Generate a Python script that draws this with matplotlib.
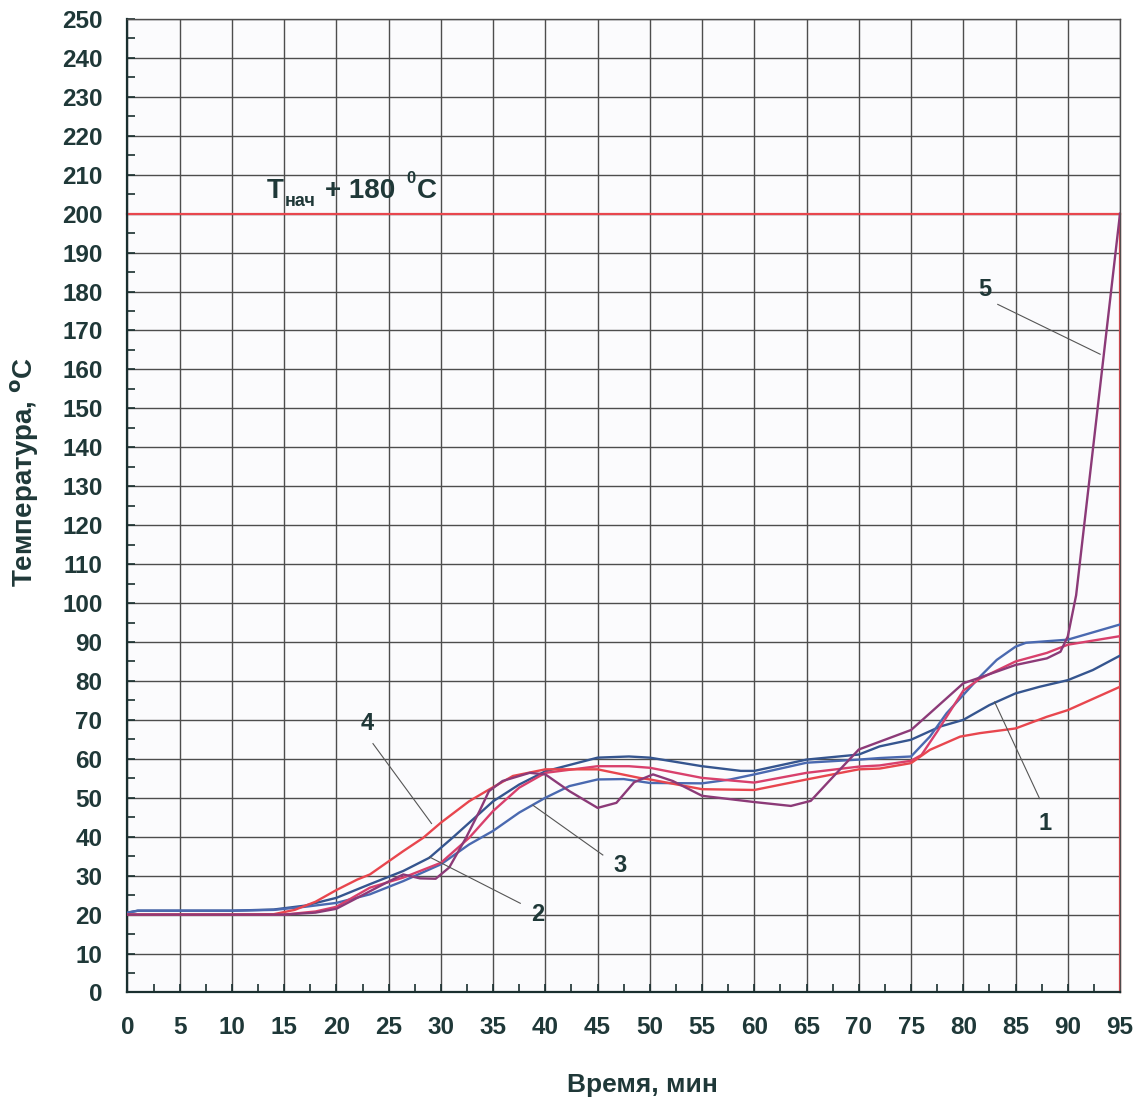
import matplotlib
matplotlib.use("Agg")
import matplotlib.pyplot as plt
from matplotlib.ticker import MultipleLocator

plt.rcParams['font.family'] = ['Liberation Sans', 'DejaVu Sans']
plt.rcParams['font.weight'] = 'bold'

# curve data (time in min, temperature in deg C)
time_1 = [0, 1, 10, 14, 17, 20, 23.2, 26.4, 28.9, 31.1, 35, 37.5, 40, 45, 48, 50, 55, 58.7, 60,
          65, 70, 72, 75, 77.8, 80, 82.5, 85, 87.3, 90, 92.4, 95]
temp_1 = [20.5, 21, 21, 21.3, 22.3, 24.3, 27.8, 31.2, 34.6, 39.7, 49.1, 53.4, 56.8, 60.3, 60.6, 60.3,
          58.1, 56.9, 56.9, 59.8, 61.1, 63.2, 64.9, 68.3, 70, 73.8, 76.8, 78.5, 80.2, 82.8, 86.5]

time_2 = [0, 1, 10, 14, 17, 20, 23.2, 26.4, 30, 32.7, 35, 37.5, 40, 42.3, 45, 47.5, 50, 55, 57.7,
          60, 65, 70, 72, 75, 76.8, 78.4, 80, 81.6, 83.2, 85, 86, 90, 95]
temp_2 = [20.5, 21, 21, 21.2, 22, 23, 25.2, 28.6, 32.9, 38, 41.5, 46.2, 50, 53, 54.7, 54.8, 53.8,
          53.7, 54.7, 56, 59, 59.8, 60.2, 60.6, 65.7, 71.7, 76.4, 81.1, 85.4, 88.8, 89.8, 90.6, 94.5]

time_3 = [0, 10, 15, 18, 20, 23.2, 26.4, 30, 32.7, 35, 37.5, 40, 45, 48, 50, 55, 60, 65, 70, 72,
          75, 76, 77.5, 80, 81.6, 85, 88, 90, 95]
temp_3 = [20, 20, 20, 20.8, 22, 26.9, 29.5, 33.3, 39.7, 46.6, 52.6, 56.4, 58.1, 58.1, 57.7, 55.1,
          53.9, 56.4, 58, 58.3, 59.5, 61, 67, 77.5, 80.6, 85, 87.2, 89.3, 91.5]

time_4 = [0, 5, 10, 14, 16, 18, 20, 22, 23.2, 26.4, 28.3, 30, 32.7, 34.6, 36.9, 40, 45, 49, 50,
          55, 60, 65, 70, 72, 75, 76.8, 79.7, 81.6, 85, 88, 90, 95]
temp_4 = [20, 20, 20, 20.1, 21.2, 23.3, 26.3, 29, 30.3, 36.3, 39.7, 43.6, 49.1, 52.1, 55.6, 57.3,
          57.3, 55.1, 54.7, 52.2, 52, 54.7, 57.3, 57.5, 58.9, 62.3, 65.7, 66.6, 67.8, 70.8, 72.5, 78.5]

time_5 = [0, 10, 15, 18, 20, 22.5, 25, 26.4, 28, 29.5, 30.8, 32.4, 33.7, 34.6, 35.9, 38.5, 40,
          42.3, 45, 46.8, 48.5, 50.3, 52.2, 55, 60, 63.5, 65.4, 67.3, 70, 72, 75, 76.8, 80, 81.3,
          85, 88, 89.3, 90, 90.8, 95]
temp_5 = [20, 20, 20, 20.5, 21.5, 25, 28.5, 30.3, 29.3, 29.2, 32.1, 39.7, 46.6, 51.7, 54.3, 56.4,
          56, 51.7, 47.4, 48.7, 54, 56, 54.3, 50.5, 48.9, 47.9, 49.2, 54.7, 62.4, 64.4, 67.4, 71.7,
          79.4, 80.6, 84.1, 85.8, 87.5, 91.4, 102, 200]

limit_temp = 200
x_ticks = list(range(0, 96, 5))
y_ticks = list(range(0, 251, 10))

# curve labels: text position and leader line (start, end)
labels = {
    '1': ((87.8, 43.4), (87.3, 49.8), (83.0, 74.6)),
    '2': ((39.3, 19.9), (37.6, 22.9), (28.9, 34.8)),
    '3': ((47.1, 32.7), (45.5, 35.3), (38.8, 48.1)),
    '4': ((22.9, 69.0), (23.5, 63.9), (29.1, 43.4)),
    '5': ((82.1, 180.6), (83.3, 176.7), (93.1, 163.9)),
}

text_col = '#1f3838'
grid_col = '#4d4d4d'
red = '#e8464e'

fig = plt.figure(figsize=(11.41, 11.15), dpi=100)
ax = fig.add_axes([0.1117, 0.1099, 0.8699, 0.8731])
ax.set_facecolor('#fbfbfd')

ax.plot(time_1, temp_1, color='#35558f', lw=1.7, zorder=3)
ax.plot(time_2, temp_2, color='#4a69b0', lw=1.7, zorder=3)
ax.plot(time_3, temp_3, color='#d8406c', lw=1.7, zorder=3)
ax.plot(time_4, temp_4, color=red, lw=1.7, zorder=3)
ax.plot(time_5, temp_5, color='#8c3a78', lw=1.7, zorder=4)

# limit lines
ax.plot([0, 95], [limit_temp, limit_temp], color=red, lw=1.6, zorder=2, clip_on=False)
ax.plot([95, 95], [0, limit_temp], color=red, lw=1.6, zorder=2, clip_on=False)

for name, (pos, p0, p1) in labels.items():
    ax.plot([p0[0], p1[0]], [p0[1], p1[1]], color='#555555', lw=0.8, zorder=5)
    ax.text(pos[0], pos[1], name, ha='center', va='center', fontsize=17,
            fontweight='bold', color=text_col, zorder=6)

# Tнач + 180 °C
ax.text(13.3, 204, 'T', fontsize=20, fontweight='bold', color=text_col, ha='left', va='baseline')
ax.text(15.1, 201.9, 'нач', fontsize=13, fontweight='bold', color=text_col, ha='left', va='baseline')
ax.text(18.9, 204, '+ 180', fontsize=20, fontweight='bold', color=text_col, ha='left', va='baseline')
ax.text(26.7, 207.8, '0', fontsize=12, fontweight='bold', color=text_col, ha='left', va='baseline')
ax.text(27.7, 204, 'C', fontsize=20, fontweight='bold', color=text_col, ha='left', va='baseline')

ax.set_xlim(0, 95)
ax.set_ylim(0, 250)
ax.set_xticks(x_ticks)
ax.set_yticks(y_ticks)
ax.xaxis.set_minor_locator(MultipleLocator(2.5))
ax.yaxis.set_minor_locator(MultipleLocator(5))
ax.grid(True, which='major', color=grid_col, lw=1.0, zorder=1)
ax.set_axisbelow(True)

ax.tick_params(which='both', direction='in', length=6, width=1.2, colors='#1a2f2f',
               labelsize=17.5, labelcolor=text_col)
ax.tick_params(axis='y', pad=18)
ax.tick_params(axis='x', pad=17)
for lab in ax.get_xticklabels() + ax.get_yticklabels():
    lab.set_fontweight('bold')

for side in ['left', 'bottom']:
    ax.spines[side].set_color('#1a2f2f')
    ax.spines[side].set_linewidth(1.6)
for side in ['top', 'right']:
    ax.spines[side].set_color(grid_col)
    ax.spines[side].set_linewidth(1.0)

fig.text(25 / 1141, 1 - 472 / 1115, 'Температура, $^{\\mathbf{o}}$C', fontsize=20,
         fontweight='bold', color=text_col, rotation=90, ha='center', va='center')
fig.text(642 / 1141, 1 - 1085 / 1115, 'Время, мин', fontsize=19, fontweight='bold',
         color=text_col, ha='center', va='center')

fig.savefig('out.png', dpi=100, facecolor='white')
